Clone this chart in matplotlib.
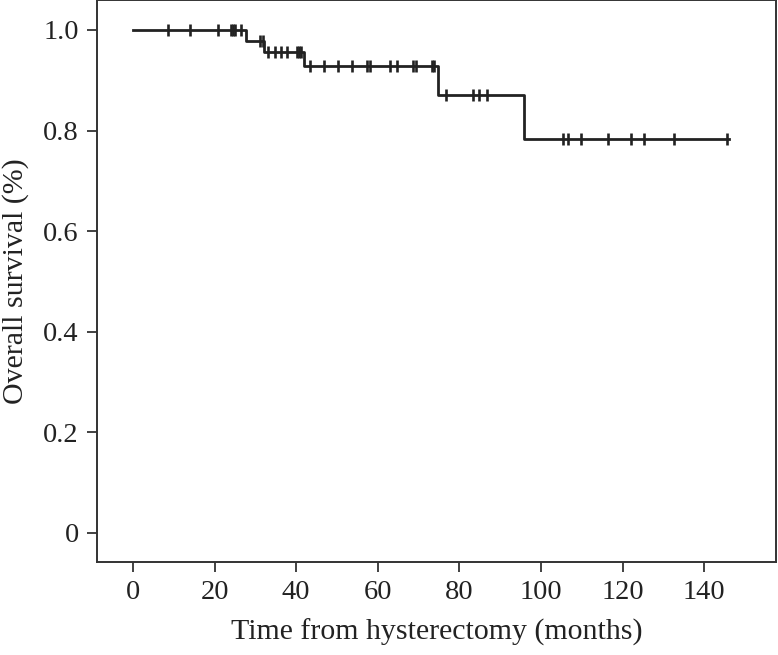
import numpy as np
import matplotlib
matplotlib.use("Agg")
import matplotlib.pyplot as plt

# Kaplan-Meier step values
event_times = [0, 27.7, 32.1, 42.0, 74.8, 95.8]
survival = [1.0, 0.978, 0.957, 0.928, 0.871, 0.783]
end_time = 146.0

# censored observations (months)
censor_times = [8.7, 14.0, 20.9, 24.0, 24.5, 25.0, 26.6,
                31.1, 31.8,
                33.2, 34.8, 36.3, 37.7, 40.1, 40.7, 41.3,
                43.5, 46.8, 50.3, 53.6, 57.3, 58.0, 63.0, 64.8, 68.7, 69.4, 73.3, 73.9,
                76.7, 83.3, 84.9, 86.7,
                105.3, 106.7, 109.8, 116.5, 122.1, 125.3, 132.7, 145.5]

xticks = [0, 20, 40, 60, 80, 100, 120, 140]
yticks = [0, 0.2, 0.4, 0.6, 0.8, 1.0]
ytick_labels = ["0", "0.2", "0.4", "0.6", "0.8", "1.0"]

plt.rcParams["font.family"] = ["Liberation Serif", "DejaVu Serif"]
dark = "#222222"

fig = plt.figure(figsize=(7.78, 6.55), dpi=100)
ax = fig.add_axes([97 / 778, 93 / 655, 679 / 778, 562 / 655])

step_x = list(event_times) + [end_time]
step_y = list(survival) + [survival[-1]]
ax.step(step_x, step_y, where="post", color=dark, lw=2.0)

idx = np.searchsorted(event_times, censor_times, side="right") - 1
censor_y = np.array(survival)[idx]
ax.plot(censor_times, censor_y, ls="none", marker="|", ms=9, mew=1.9, color=dark)

ax.set_xlim(-8.8, 157.6)
ax.set_ylim(-0.0577, 1.0596)
ax.set_xticks(xticks)
ax.set_yticks(yticks)
ax.set_yticklabels(ytick_labels)

for sp in ax.spines.values():
    sp.set_color("#333333")
    sp.set_linewidth(1.4)
ax.tick_params(direction="out", length=7, width=1.3, color="#333333",
               labelsize=20.5, pad=6, labelcolor=dark)

ax.set_xlabel("Time from hysterectomy (months)", fontsize=21.5, color=dark, labelpad=10)
ax.set_ylabel("Overall survival (%)", fontsize=21.5, color=dark, labelpad=10)

fig.savefig("out.png", dpi=100)
plt.close(fig)
